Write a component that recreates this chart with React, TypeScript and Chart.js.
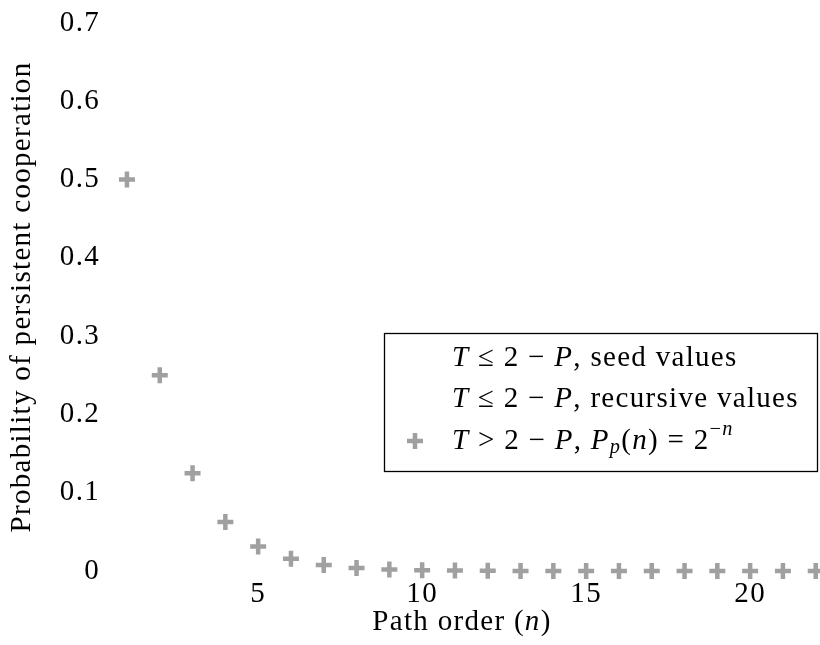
import { useEffect, useRef } from "react";
import { Chart, registerables } from "chart.js";

Chart.register(...registerables);

// ---- data ----
const pathOrder = [1, 2, 3, 4, 5, 6, 7, 8, 9, 10, 11, 12, 13, 14, 15, 16, 17, 18, 19, 20, 21, 22];
const persistentProb = [
  0.5, 0.25, 0.125, 0.0625, 0.03125, 0.015625, 0.0078125, 0.00390625, 0.001953125,
  0.0009765625, 0.00048828, 0.00024414, 0.00012207, 0.000061035, 0.000030518,
  0.000015259, 0.0000076294, 0.0000038147, 0.0000019073, 0.00000095367,
  0.00000047684, 0.00000023842,
];
const seedValues: { x: number; y: number }[] = [];
const recursiveValues: { x: number; y: number }[] = [];

const xTickValues = [5, 10, 15, 20];
const yTickValues = [0, 0.1, 0.2, 0.3, 0.4, 0.5, 0.6, 0.7];

// text as runs of upright / italic / sub / superscript pieces
type Run = { t: string; i?: boolean; pos?: "sub" | "sup" };
const seedLabel: Run[] = [
  { t: "T", i: true }, { t: " ≤ 2 − " }, { t: "P", i: true }, { t: ", seed values" },
];
const recursiveLabel: Run[] = [
  { t: "T", i: true }, { t: " ≤ 2 − " }, { t: "P", i: true }, { t: ", recursive values" },
];
const powerLabel: Run[] = [
  { t: "T", i: true }, { t: " > 2 − " }, { t: "P", i: true }, { t: ", " },
  { t: "P", i: true }, { t: "p", i: true, pos: "sub" }, { t: "(" }, { t: "n", i: true },
  { t: ") = 2" }, { t: "−", pos: "sup" }, { t: "n", i: true, pos: "sup" },
];
const legendLabels = [seedLabel, recursiveLabel, powerLabel];
const xTitle: Run[] = [{ t: "Path order (" }, { t: "n", i: true }, { t: ")" }];
const yTitle = "Probability of persistent cooperation";

const FONT_FAMILY = '"Liberation Serif", "Times New Roman", serif';
const FONT_SIZE = 29;
const LETTER_SPACING = "1.3px";
const MARK_GRAY = "#a0a0a0";

function runFont(r: Run, size: number) {
  const s = r.pos ? size * 0.7 : size;
  return `${r.i ? "italic " : ""}${s}px ${FONT_FAMILY}`;
}

function measureRuns(ctx: CanvasRenderingContext2D, runs: Run[], size: number) {
  let w = 0;
  for (const r of runs) {
    ctx.font = runFont(r, size);
    w += ctx.measureText(r.t).width;
  }
  return w;
}

function drawRuns(ctx: CanvasRenderingContext2D, runs: Run[], x: number, y: number, size: number) {
  let cx = x;
  for (const r of runs) {
    ctx.font = runFont(r, size);
    const dy = r.pos === "sub" ? size * 0.22 : r.pos === "sup" ? -size * 0.38 : 0;
    ctx.fillText(r.t, cx, y + dy);
    cx += ctx.measureText(r.t).width;
  }
  return cx - x;
}

// wider letter spacing for every piece of text on the canvas
const spacing = {
  id: "spacing",
  beforeUpdate(chart: Chart) {
    (chart.ctx as any).letterSpacing = LETTER_SPACING;
  },
  beforeDraw(chart: Chart) {
    (chart.ctx as any).letterSpacing = LETTER_SPACING;
  },
};

// x-axis title with italic n, plus boxed legend in the lower right of the plot
const mathText = {
  id: "mathText",
  afterDraw(chart: Chart) {
    const { ctx, chartArea } = chart;
    const xScale: any = chart.scales.x;
    ctx.save();
    ctx.fillStyle = "#000";
    ctx.textBaseline = "middle";
    ctx.textAlign = "left";
    const tw = measureRuns(ctx, xTitle, FONT_SIZE);
    drawRuns(ctx, xTitle, (chartArea.left + chartArea.right) / 2 - tw / 2, xScale.bottom - 23, FONT_SIZE);

    const boxRight = chartArea.right - 2;
    const boxLeft = boxRight - 434;
    const boxTop = chartArea.top + 310;
    const boxH = 139;
    ctx.fillStyle = "#fff";
    ctx.fillRect(boxLeft, boxTop, boxRight - boxLeft, boxH);
    ctx.strokeStyle = "#000";
    ctx.lineWidth = 1.3;
    ctx.strokeRect(boxLeft + 0.5, boxTop + 0.5, boxRight - boxLeft - 1, boxH - 1);

    chart.data.datasets.forEach((ds: any, i: number) => {
      const rowY = boxTop + 25 + i * 41.5;
      const r = ds.pointRadius || 0;
      if (r > 0) {
        const mx = boxLeft + 31;
        ctx.strokeStyle = ds.borderColor;
        ctx.lineWidth = ds.pointBorderWidth;
        ctx.beginPath();
        ctx.moveTo(mx - r, rowY);
        ctx.lineTo(mx + r, rowY);
        ctx.moveTo(mx, rowY - r);
        ctx.lineTo(mx, rowY + r);
        ctx.stroke();
      }
      ctx.fillStyle = "#000";
      drawRuns(ctx, legendLabels[i], boxLeft + 68, rowY, FONT_SIZE);
    });
    ctx.restore();
  },
};

export default function App() {
  const canvasRef = useRef<HTMLCanvasElement | null>(null);

  useEffect(() => {
    const canvas = canvasRef.current;
    if (!canvas) return;
    const font = { family: FONT_FAMILY, size: FONT_SIZE };
    const chart = new Chart(canvas, {
      type: "scatter",
      data: {
        datasets: [
          {
            label: "seed values",
            data: seedValues,
            pointRadius: 0,
            borderColor: "#fff",
            backgroundColor: "#fff",
          },
          {
            label: "recursive values",
            data: recursiveValues,
            pointRadius: 0,
            borderColor: "#fff",
            backgroundColor: "#fff",
          },
          {
            label: "power law",
            data: pathOrder.map((n, k) => ({ x: n, y: persistentProb[k] })),
            pointStyle: "cross",
            pointRadius: 8,
            pointBorderWidth: 4.5,
            borderColor: MARK_GRAY,
            backgroundColor: MARK_GRAY,
            clip: false as any,
          },
        ],
      },
      options: {
        responsive: false,
        animation: false,
        devicePixelRatio: 1,
        layout: { autoPadding: false, padding: { top: 23, right: 0, bottom: 0, left: 0 } },
        plugins: {
          legend: { display: false },
          tooltip: { enabled: false },
        },
        scales: {
          x: {
            type: "linear",
            min: 0.3,
            max: 22.13,
            grid: { display: false, drawTicks: false },
            border: { display: false },
            afterBuildTicks: (s: any) => {
              s.ticks = xTickValues.map((v) => ({ value: v }));
            },
            afterFit: (s: any) => {
              s.height = 74;
              s.paddingLeft = 0;
              s.paddingRight = 0;
            },
            ticks: { color: "#000", font, padding: 6, maxRotation: 0, callback: (v: any) => String(v) },
            title: { display: false },
          },
          y: {
            type: "linear",
            min: 0,
            max: 0.7,
            grid: { display: false, drawTicks: false },
            border: { display: false },
            afterBuildTicks: (s: any) => {
              s.ticks = yTickValues.map((v) => ({ value: v }));
            },
            afterFit: (s: any) => {
              s.width = 104;
            },
            ticks: {
              color: "#000",
              font,
              padding: 4,
              callback: (v: any) => (v === 0 ? "0" : Number(v).toFixed(1)),
            },
            title: {
              display: true,
              text: yTitle,
              color: "#000",
              font,
              padding: { top: 5, bottom: 0 },
            },
          },
        },
      },
      plugins: [spacing, mathText],
    });
    return () => chart.destroy();
  }, []);

  return (
    <div style={{ position: "absolute", left: 0, top: 0, width: 820, height: 645, background: "#fff", overflow: "hidden" }}>
      <canvas ref={canvasRef} width={820} height={645} style={{ display: "block" }} />
    </div>
  );
}
